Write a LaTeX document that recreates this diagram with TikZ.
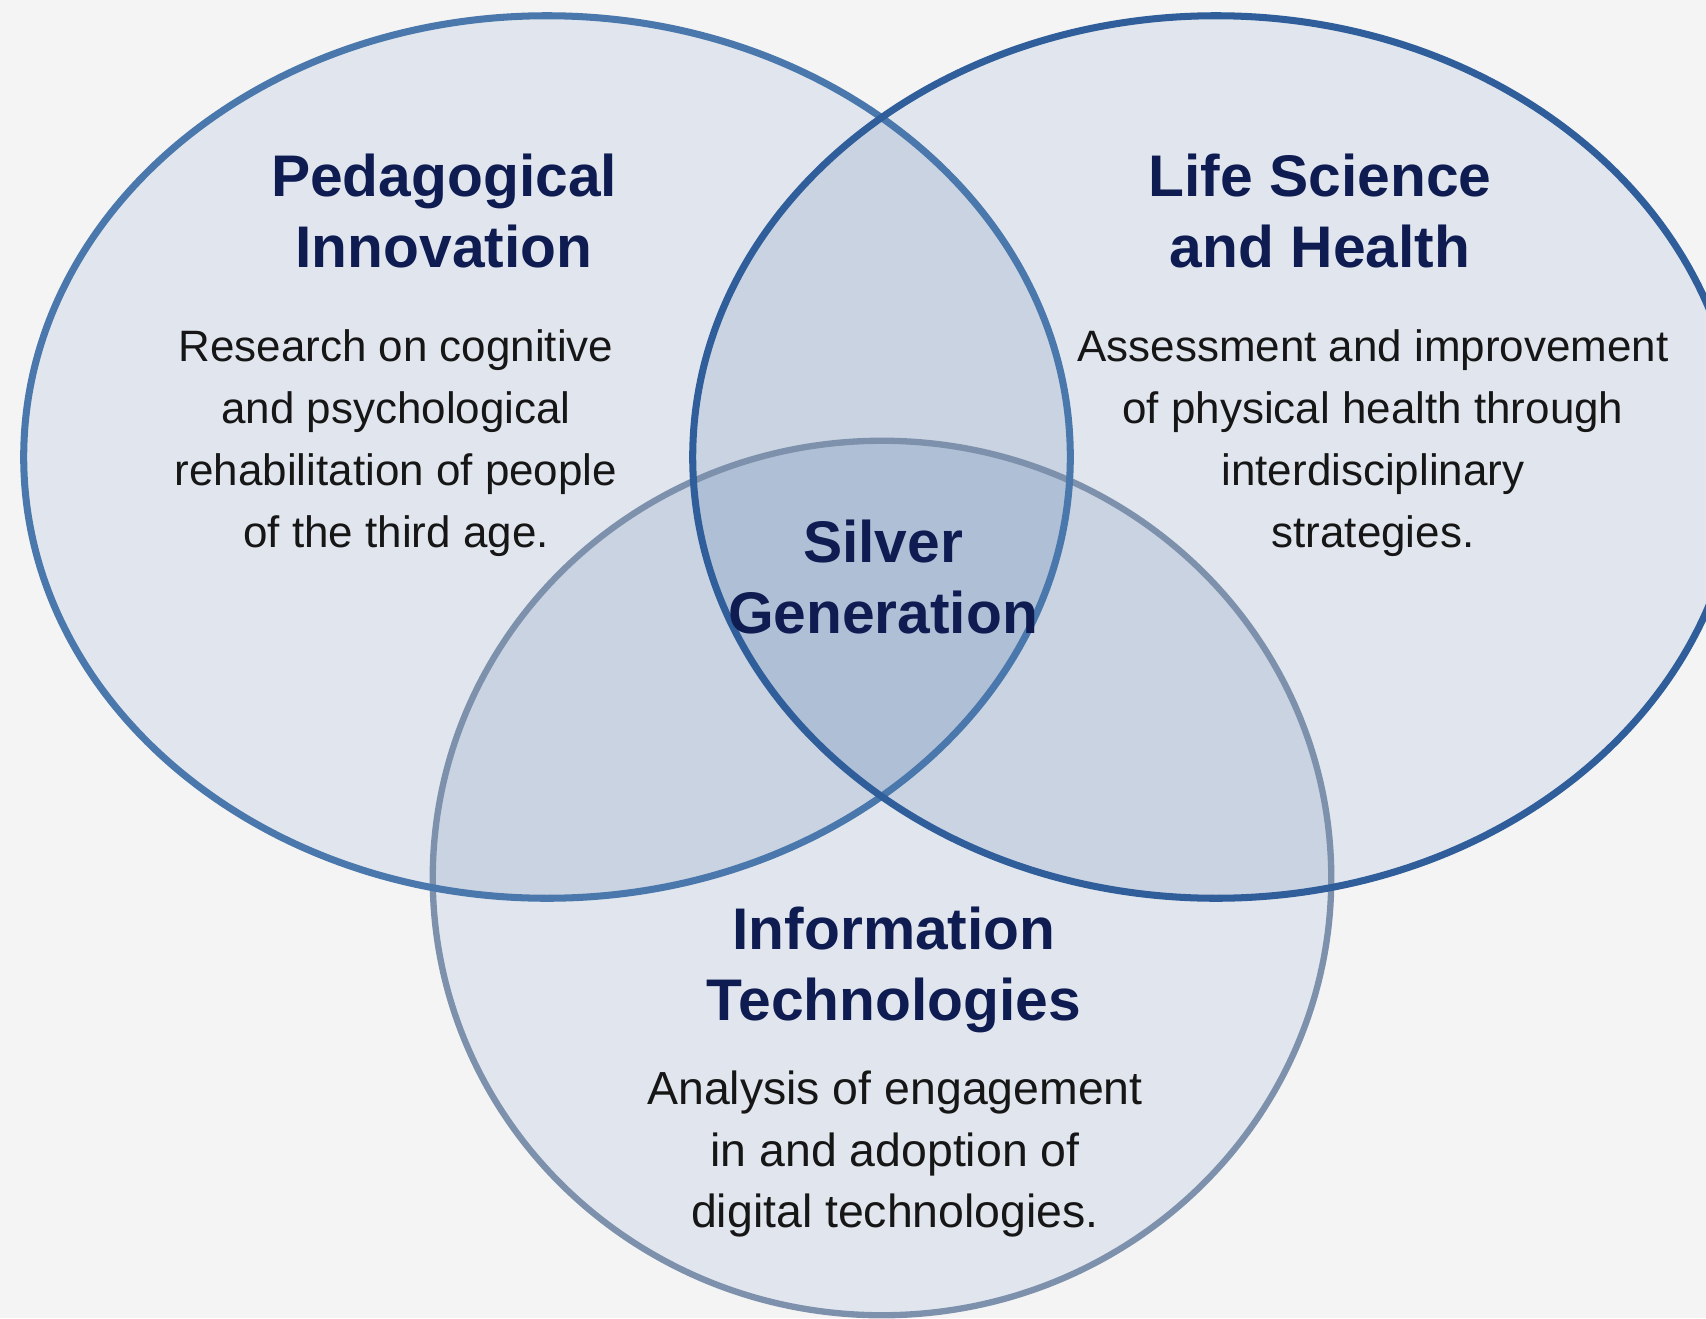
\documentclass[tikz,border=0pt]{standalone}
\usepackage{fontspec}
\setmainfont{Liberation Sans}
\definecolor{bg}{HTML}{F4F4F5}
\definecolor{fillone}{HTML}{E1E6EE}
\definecolor{filltwo}{HTML}{C9D3E1}
\definecolor{fillthree}{HTML}{AFBFD6}
\definecolor{strokeL}{HTML}{4A78AC}
\definecolor{strokeR}{HTML}{2F5E9A}
\definecolor{strokeB}{HTML}{7D91AC}
\definecolor{titlecol}{HTML}{0E1C52}
\definecolor{bodycol}{HTML}{161616}
\begin{document}
\begin{tikzpicture}[x=0.01cm,y=-0.01cm,
  title/.style={font=\fontsize{16.7}{20}\selectfont\bfseries, text=titlecol, align=center, inner sep=0pt},
  body/.style={font=\fontsize{12.5}{17.6}\selectfont, text=bodycol, align=center, inner sep=0pt},
  bodybig/.style={body, font=\fontsize{13.2}{17.6}\selectfont},
  ring/.style={line width=2pt}]
\useasboundingbox (0,0) rectangle (1706,1318);
\fill[bg] (0,0) rectangle (1706,1318);
\clip (0,0) rectangle (1706,1318);
\def\shapeL{(547,457) ellipse [x radius=5.23cm, y radius=4.41cm]}
\def\shapeR{(1216,457) ellipse [x radius=5.23cm, y radius=4.41cm]}
\def\shapeB{(882,878) ellipse [x radius=4.49cm, y radius=4.37cm]}
% fills
\fill[fillone] \shapeL;
\fill[fillone] \shapeR;
\fill[fillone] \shapeB;
\begin{scope}
  \clip \shapeL;
  \fill[filltwo] \shapeR;
  \fill[filltwo] \shapeB;
\end{scope}
\begin{scope}
  \clip \shapeR;
  \fill[filltwo] \shapeB;
\end{scope}
\begin{scope}
  \clip \shapeL;
  \clip \shapeR;
  \fill[fillthree] \shapeB;
\end{scope}
% outlines
\draw[ring, strokeB, line width=1.8pt] \shapeB;
\draw[ring, strokeL] \shapeL;
\draw[ring, strokeR] \shapeR;
% texts
\node[title] (pedT) at (444,211) {Pedagogical\\Innovation};
\node[body] (pedB) at (396,443) {Research on cognitive\\and psychological\\rehabilitation of people\\of the third age.};
\node[title] (lifeT) at (1320,211) {Life Science\\and Health};
\node[body] (lifeB) at (1373,443) {Assessment and improvement\\of physical health through\\interdisciplinary\\strategies.};
\node[title] (silver) at (883,577) {Silver\\Generation};
\node[title] (infoT) at (894,970) {Information\\Technologies};
\node[bodybig] (infoB) at (895,1154) {Analysis of engagement\\in and adoption of\\digital technologies.};
\end{tikzpicture}
\end{document}
